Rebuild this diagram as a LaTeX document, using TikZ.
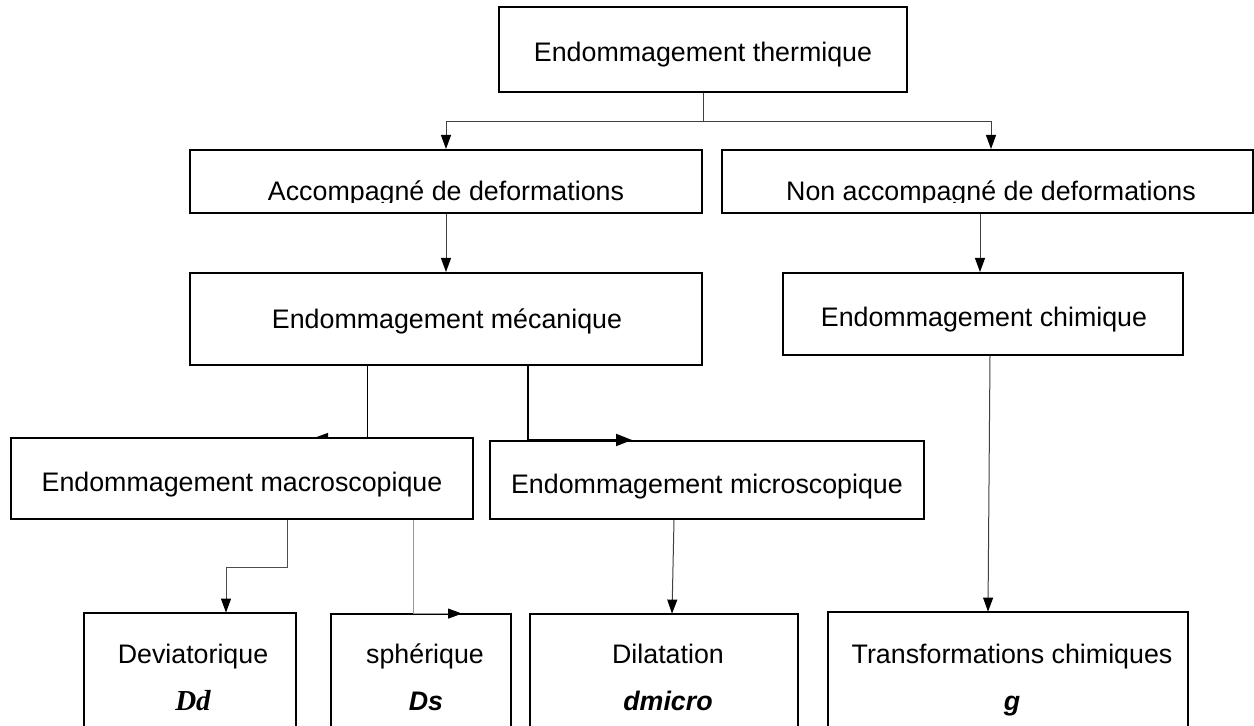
\documentclass[tikz,border=0pt]{standalone}
\usepackage{fontspec}
\setmainfont{Liberation Sans}
\newfontfamily\timesfont{Liberation Serif}
\usetikzlibrary{arrows.meta}
\begin{document}
\begin{tikzpicture}[x=0.5pt,y=-0.5pt,
  boxline/.style={line width=1pt,draw=black},
  box/.style={boxline,fill=white,rectangle,inner sep=0pt},
  openbox/.style={draw=none,fill=white,rectangle,inner sep=0pt},
  txt/.style={font=\fontsize{13.4}{16}\selectfont,inner sep=0pt,anchor=base},
  symS/.style={font=\fontsize{13.4}{16}\selectfont\bfseries\itshape,inner sep=0pt,anchor=base},
  symT/.style={font=\fontsize{14.5}{16}\timesfont\bfseries\itshape,inner sep=0pt,anchor=base},
  conn/.style={line width=0.5pt,draw=black!75},
  tip/.style={-{Triangle[length=7pt,width=5pt,color=black]}},
  bigtip/.style={-{Triangle[length=8pt,width=6pt,color=black]}}]
\useasboundingbox (0,0) rectangle (1254,726);
\fill[white] (0,0) rectangle (1254,726);

% boxes
\node[box,minimum width=204pt,minimum height=42.5pt] (top) at (703,49.5) {};
\node[box,minimum width=256pt,minimum height=31.5pt] (acc) at (446,181.5) {};
\node[box,minimum width=265.5pt,minimum height=31.5pt] (non) at (987.5,181.5) {};
\node[box,minimum width=256pt,minimum height=46pt] (mec) at (446,319) {};
\node[box,minimum width=200pt,minimum height=41pt] (chi) at (983,314) {};
\node[box,minimum width=230pt,minimum height=39.5pt] (mac) at (242,478.5) {};
\node[box,minimum width=217pt,minimum height=39pt] (mic) at (707,480) {};
\node[openbox,minimum width=106pt,minimum height=57pt] (dev) at (190,670) {};
\node[openbox,minimum width=90pt,minimum height=56.5pt] (sph) at (421,670.5) {};
\node[openbox,minimum width=134pt,minimum height=56.5pt] (dil) at (664,670.5) {};
\node[openbox,minimum width=180pt,minimum height=57.5pt] (tra) at (1008,669.5) {};
\foreach \b in {dev,sph,dil,tra}
  \draw[boxline] (\b.south west) -- (\b.north west) -- (\b.north east) -- (\b.south east);

% connectors
\draw[conn,tip] (top.south) -- ++(0,29) -| (acc.north);
\draw[conn,tip] (top.south) -- ++(0,29) -| ([xshift=1.75pt]non.north);
\draw[conn,tip] (acc.south) -- (mec.north);
\draw[conn,tip] ([xshift=-3.75pt]non.south) -- ([xshift=-3.75pt]non.south |- chi.north);
\draw[line width=0.5pt,draw=black,tip] ([xshift=-39.5pt]mec.south) |- ([xshift=36pt]mac.north);
\draw[line width=1pt,draw=black,bigtip] ([xshift=41pt]mec.south) |- ([xshift=-37.5pt]mic.north);
\draw[conn,tip] ([xshift=3.5pt]chi.south) -- ([xshift=-10pt]tra.north);
\draw[conn,draw=black!70,tip] ([xshift=22.5pt]mac.south) -- ++(0,49) -| ([xshift=18pt]dev.north);
\draw[line width=0.5pt,draw=black!40,tip] ([xshift=85.5pt]mac.south) |- ([xshift=20.5pt]sph.north);
\draw[conn,tip] ([xshift=-16.5pt]mic.south) -- ([xshift=4pt]dil.north);

% macro box redrawn over the half-hidden arrow
\draw[boxline,fill=white] (mac.south west) rectangle (mac.north east);

% texts
\node[txt] (topT) at (703,62) {Endommagement thermique};
\begin{scope}
  \clip (190,150) rectangle (1254,202.5);
  \node[txt] (accT) at (446,201) {Accompagné de deformations};
  \node[txt] (nonT) at (991,201) {Non accompagné de deformations};
\end{scope}
\node[txt] (mecT) at (447,329) {Endommagement mécanique};
\node[txt] (chiT) at (984,327) {Endommagement chimique};
\node[txt] (macT) at (242,492) {Endommagement macroscopique};
\node[txt] (micT) at (707,494) {Endommagement microscopique};
\node[txt] (devT) at (193,664) {Deviatorique};
\node[symT] (devS) at (193,711) {Dd};
\node[txt] (sphT) at (425,664) {sphérique};
\node[symS] (sphS) at (426,711) {Ds};
\node[txt] (dilT) at (668,664) {Dilatation};
\node[symS] (dilS) at (668,711) {dmicro};
\node[txt] (traT) at (1012,664) {Transformations chimiques};
\node[symS] (traS) at (1012,711) {g};
\end{tikzpicture}
\end{document}
